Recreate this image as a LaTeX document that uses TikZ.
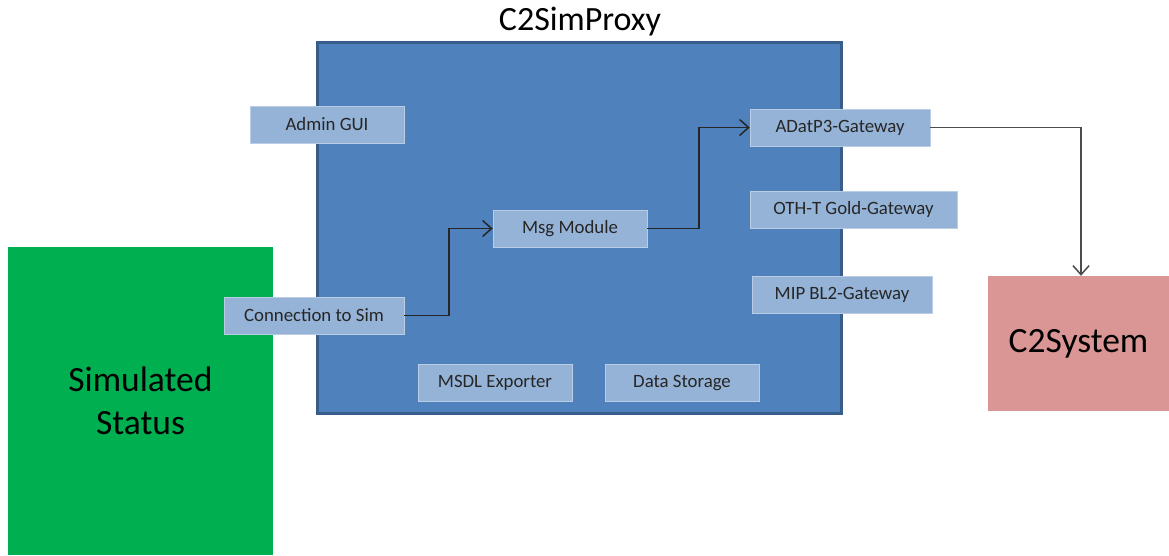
\documentclass[tikz,border=0pt]{standalone}
\usepackage{fontspec}
\setmainfont{Carlito}
\usepackage{tikz}
\definecolor{proxyblue}{RGB}{79, 129, 189}
\definecolor{proxyline}{RGB}{56, 93, 138}
\definecolor{partblue}{RGB}{149, 179, 215}
\definecolor{partline}{RGB}{185, 205, 229}
\definecolor{simgreen}{RGB}{0, 176, 80}
\definecolor{c2red}{RGB}{217, 150, 148}
\definecolor{txt}{RGB}{38, 38, 38}
\usetikzlibrary{positioning}
\usetikzlibrary{arrows.meta}

\begin{document}
\begin{tikzpicture}
				[x=1pt, y=-1pt, every node/.style={inner sep=0pt},
				part/.style={rectangle, minimum width=154pt, minimum height=37pt, fill=partblue, draw=partline, line width=0.6pt, text=txt, font=\fontsize{18.8}{21}\selectfont},
				link/.style={line width=1.8pt, color=black!85, -{Straight Barb[length=9pt, width=16pt, line width=1.5pt]}}]
				\useasboundingbox (0, 0) rectangle (1169, 555);
				\node (proxy) [rectangle, minimum width=524pt, minimum height=371pt, fill=proxyblue, draw=proxyline, line width=3pt] at (579, 227.5)  {};
				\node (title) [font=\fontsize{34}{38}\selectfont] at (580, 22)  {C2SimProxy};
				\node (sim) [rectangle, minimum width=265pt, minimum height=308pt, fill=simgreen, align=center, font=\fontsize{35.5}{43}\selectfont] at (140.5, 401)  {Simulated\\Status};
				\node (c2sys) [rectangle, minimum width=181pt, minimum height=135pt, fill=c2red, font=\fontsize{35.5}{40}\selectfont] at (1078.5, 343.5)  {C2System};
				\node (admin) [part] at (327, 124.5)  {Admin GUI};
				\node (conn) [part, minimum width=180pt] at (314, 315.5)  {Connection to Sim};
				\node (msg) [part] at (570, 228.5)  {Msg Module};
				\node (adatp) [part, minimum width=180pt] at (840, 127.5)  {ADatP3-Gateway};
				\node (oth) [part, minimum width=207pt] at (853.5, 209.5)  {OTH-T Gold-Gateway};
				\node (mip) [part, minimum width=180pt] at (842, 294.5)  {MIP BL2-Gateway};
				\node (msdl) [part] at (495, 382.5)  {MSDL Exporter};
				\node (store) [part] at (682, 383)  {Data Storage};
				\draw [link] (conn.east) -- ++(45, 0) |- (msg.west);
				\draw [link] (msg.east) -- ++(52, 0) |- (adatp.west);
				\draw [link, color=black!70, line width=1.4pt] (adatp.east) -| (1081, 0 |- c2sys.north);
		\end{tikzpicture}
\end{document}
